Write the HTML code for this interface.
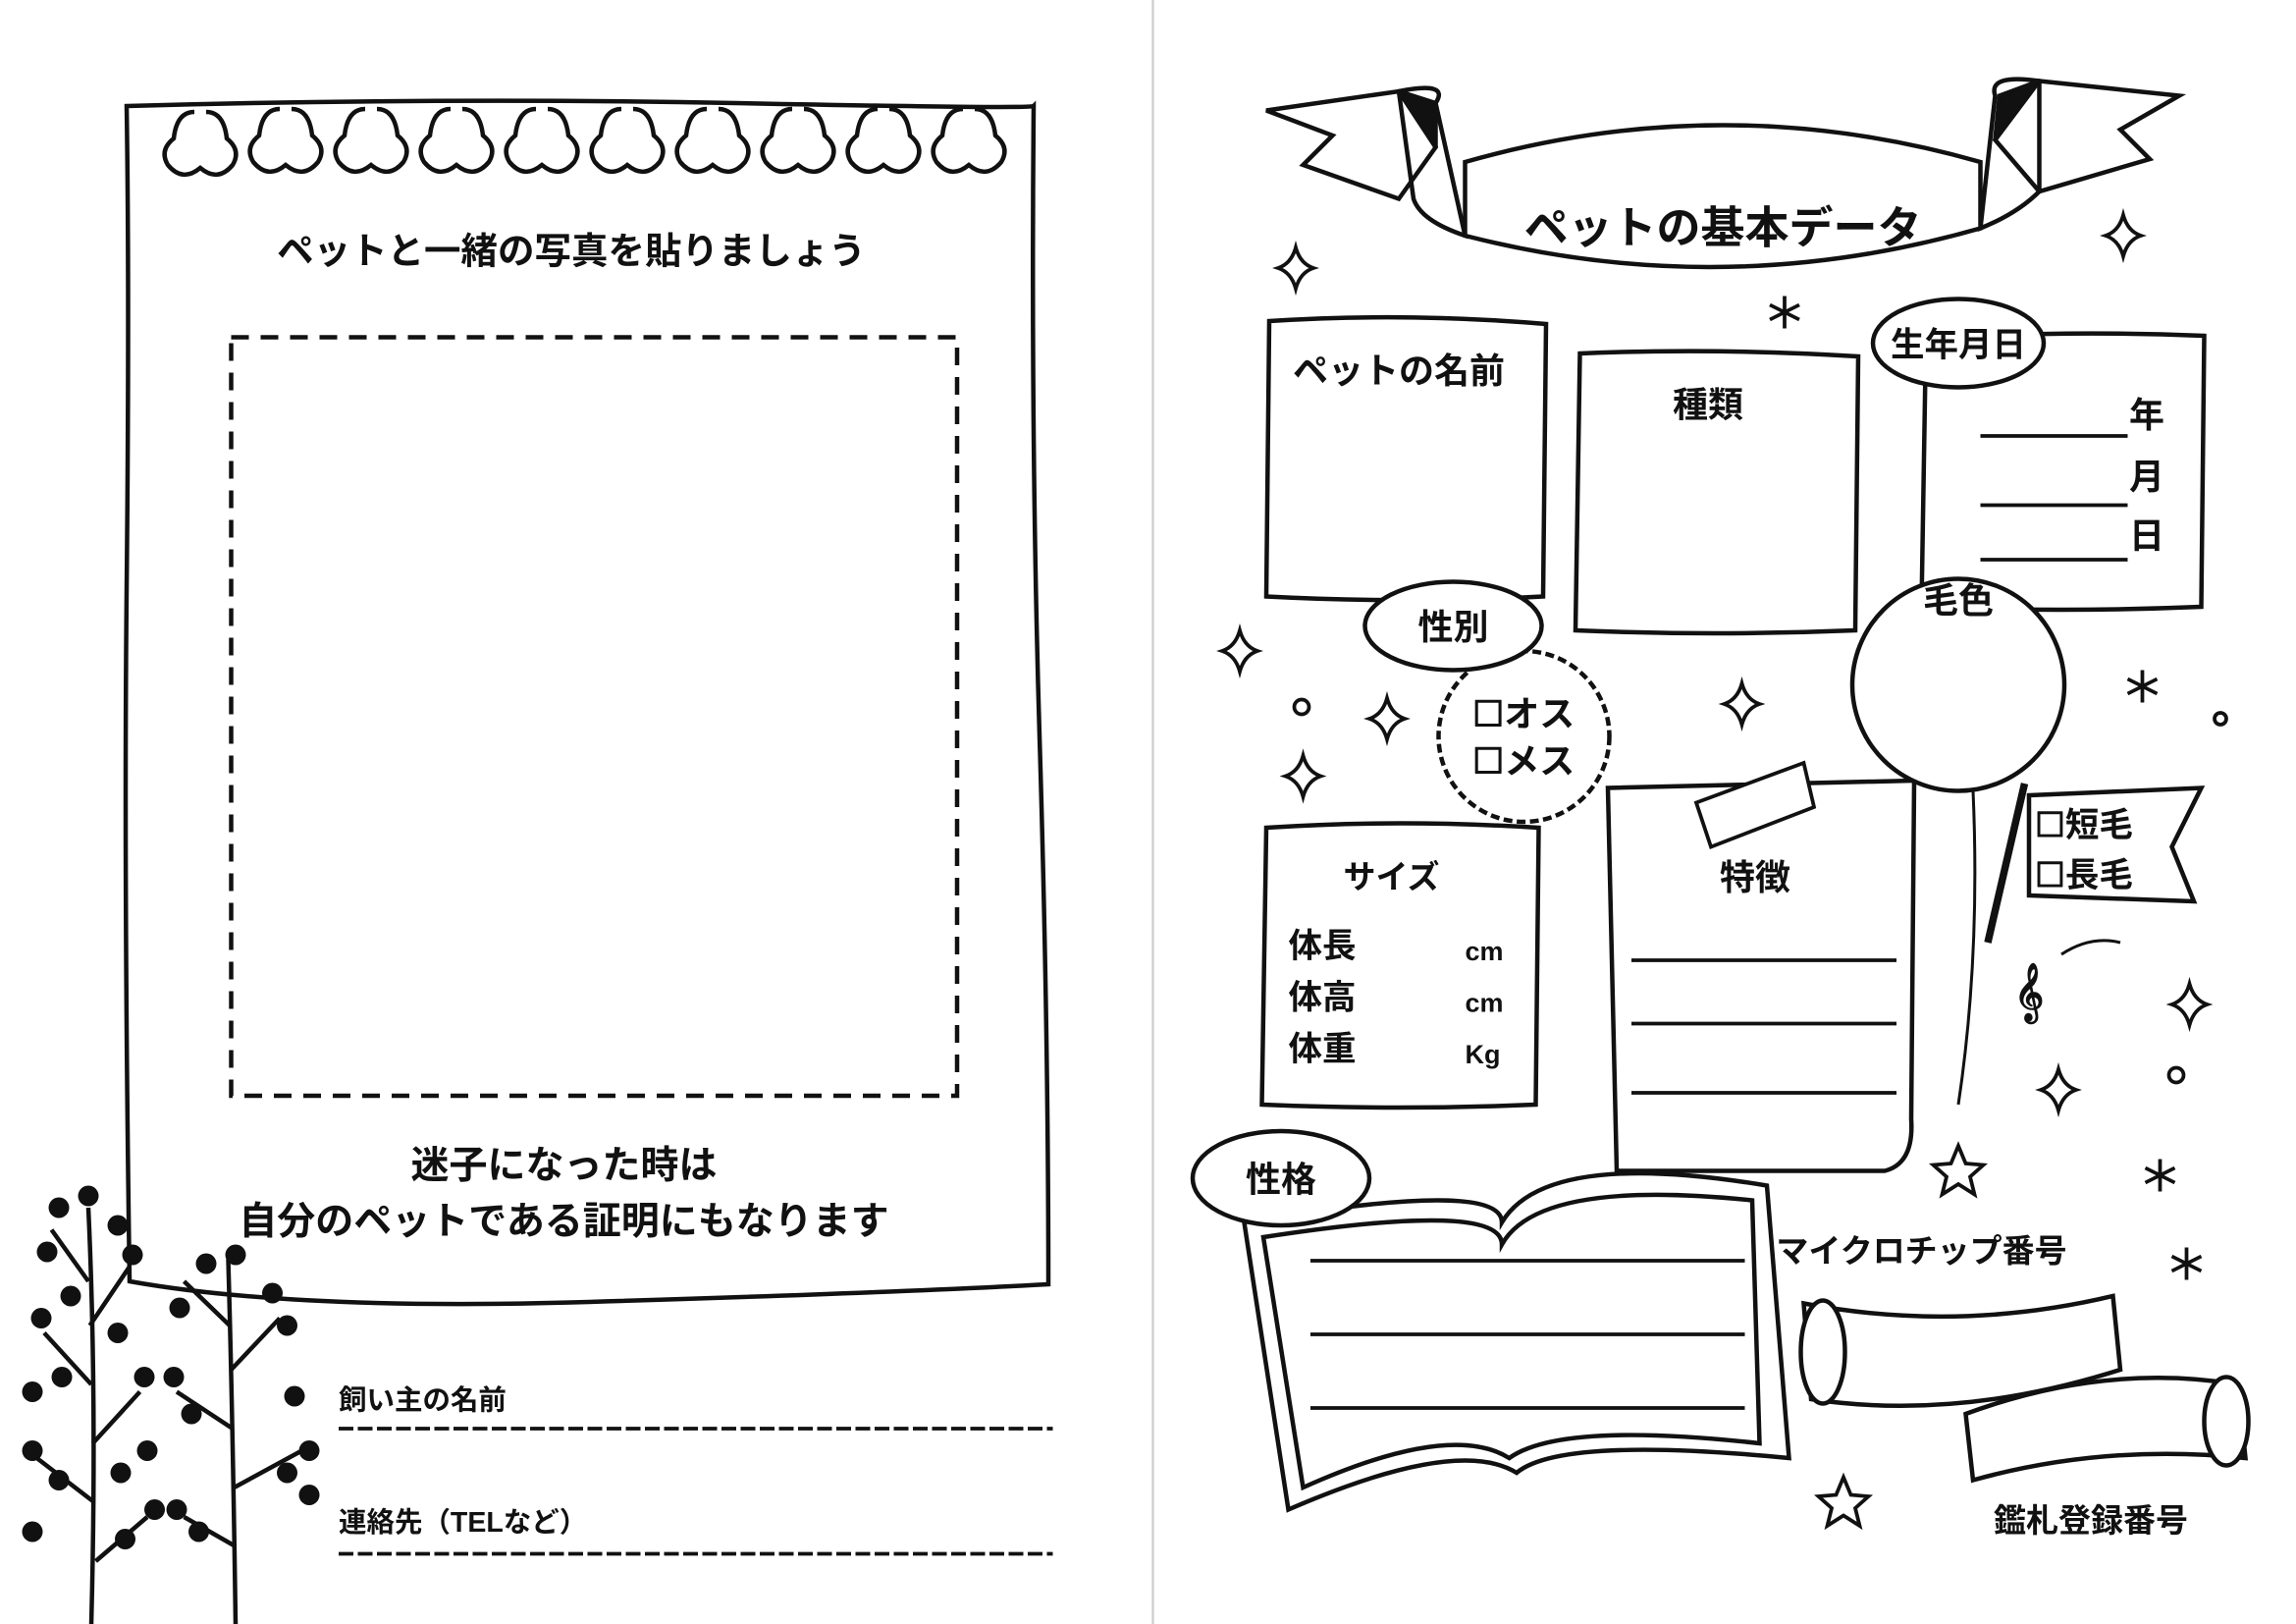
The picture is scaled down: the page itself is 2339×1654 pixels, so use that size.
<!DOCTYPE html>
<html><head><meta charset="utf-8"><style>
html,body{margin:0;padding:0;background:#fff;}
svg{display:block;}
text{font-family:"Liberation Sans","Noto Sans CJK JP",sans-serif;fill:#111;font-weight:bold;}
</style></head><body>
<svg width="2339" height="1654" viewBox="0 0 1559.33 1102.67" xmlns="http://www.w3.org/2000/svg">
<defs>
<g id="sp"><path d="M0,-14 Q3,-3 12,0 Q3,3 0,14 Q-3,3 -12,0 Q-3,-3 0,-14Z" fill="none" stroke="#111" stroke-width="2.5"/></g>
<g id="ast"><path d="M0,-11 L0,11 M-10,-5 L10,5 M-10,5 L10,-5" stroke="#111" stroke-width="2.5"/></g>
<g id="st"><path d="M0,-17 L5,-5 L17,-4 L8,4 L11,16 L0,9 L-11,16 L-8,4 L-17,-4 L-5,-5Z" fill="none" stroke="#111" stroke-width="2.5"/></g>
<path id="lp" d="M0,0 q-12,0 -14,18 q-10,8 -4,18 q10,12 22,2 q12,10 22,-2 q6,-10 -4,-18 q-2,-18 -14,-18" fill="none" stroke="#111" stroke-width="3"/>
</defs>
<line x1="783" y1="0" x2="783" y2="1103" stroke="#ccc" stroke-width="1.5"/>

<path d="M86,72 Q300,66 500,70 T702,72 Q700,300 706,500 T712,872 Q600,878 400,884 T88,870 Q84,600 86,400 T86,72Z" fill="none" stroke="#111" stroke-width="3"/>
<g>
<use href="#lp" x="132" y="76"/><use href="#lp" x="190" y="74"/><use href="#lp" x="248" y="74"/><use href="#lp" x="306" y="74"/><use href="#lp" x="364" y="74"/><use href="#lp" x="422" y="74"/><use href="#lp" x="480" y="74"/><use href="#lp" x="538" y="74"/><use href="#lp" x="596" y="74"/><use href="#lp" x="654" y="74"/>
</g>
<text x="388" y="179" font-size="25" text-anchor="middle">ペットと一緒の写真を貼りましょう</text>
<rect x="157" y="229" width="493" height="515" fill="none" stroke="#111" stroke-width="3" stroke-dasharray="12,8"/>
<text x="383" y="800" font-size="26" text-anchor="middle">迷子になった時は</text>
<text x="383" y="838" font-size="26" text-anchor="middle">自分のペットである証明にもなります</text>

<g stroke="#111" stroke-width="3" fill="none">
<path d="M62,1103 Q66,950 60,820"/><path d="M60,870 L35,835 M61,900 L88,860 M62,940 L30,905 M63,980 L95,945 M64,1020 L25,990 M65,1060 L100,1030"/>
<path d="M160,1103 Q158,960 155,855"/><path d="M156,900 L125,870 M157,930 L190,895 M158,970 L120,945 M159,1010 L205,985 M160,1050 L125,1030"/>
</g>
<g fill="#111">
<circle cx="40" cy="820" r="7"/><circle cx="60" cy="812" r="7"/><circle cx="80" cy="832" r="7"/><circle cx="32" cy="850" r="7"/><circle cx="90" cy="852" r="7"/><circle cx="28" cy="895" r="7"/><circle cx="48" cy="880" r="7"/><circle cx="98" cy="935" r="7"/><circle cx="80" cy="905" r="7"/><circle cx="22" cy="945" r="7"/><circle cx="42" cy="935" r="7"/><circle cx="22" cy="985" r="7"/><circle cx="40" cy="1005" r="7"/><circle cx="100" cy="985" r="7"/><circle cx="82" cy="1000" r="7"/><circle cx="105" cy="1025" r="7"/><circle cx="22" cy="1040" r="7"/><circle cx="85" cy="1045" r="7"/>
<circle cx="140" cy="858" r="7"/><circle cx="160" cy="852" r="7"/><circle cx="122" cy="888" r="7"/><circle cx="185" cy="878" r="7"/><circle cx="195" cy="900" r="7"/><circle cx="118" cy="935" r="7"/><circle cx="130" cy="960" r="7"/><circle cx="200" cy="948" r="7"/><circle cx="210" cy="985" r="7"/><circle cx="195" cy="1000" r="7"/><circle cx="120" cy="1025" r="7"/><circle cx="135" cy="1040" r="7"/><circle cx="210" cy="1015" r="7"/>
</g>
<text x="230" y="957" font-size="19">飼い主の名前</text>
<line x1="230" y1="970" x2="715" y2="970" stroke="#111" stroke-width="2.5" stroke-dasharray="10,3"/>
<text x="230" y="1040" font-size="19">連絡先（TELなど）</text>
<line x1="230" y1="1055" x2="715" y2="1055" stroke="#111" stroke-width="2.5" stroke-dasharray="10,3"/>

<g fill="none" stroke="#111" stroke-width="3">
<path d="M860,75 L950,62 L975,100 L950,135 L885,112 L905,92Z"/>
<path d="M1480,65 L1385,55 L1355,95 L1385,130 L1460,108 L1440,88Z"/>
<path d="M950,62 Q985,55 975,70 L995,160 Q965,150 960,135Z"/>
<path d="M1385,55 Q1350,50 1355,65 L1345,155 Q1370,145 1385,130Z"/>
<path d="M995,110 Q1170,60 1345,110 L1345,155 Q1170,205 995,160Z" fill="#fff"/>
<path d="M950,62 L975,70 L975,100" fill="#111"/>
<path d="M1385,55 L1358,65 L1355,95" fill="#111"/>
</g>
<text x="1170" y="165" font-size="30" text-anchor="middle">ペットの基本データ</text>

<g fill="#fff" stroke="#111" stroke-width="3">
<path d="M862,218 Q955,212 1050,220 L1048,405 Q955,410 860,405Z"/>
<path d="M1073,240 Q1165,236 1262,242 L1260,428 Q1165,432 1070,428Z"/>
<path d="M1308,230 Q1400,224 1497,228 L1495,412 Q1400,416 1305,412Z"/>
<path d="M860,562 Q950,556 1045,562 L1043,750 Q950,754 857,750Z"/>
<path d="M1092,535 L1300,530 L1298,760 Q1300,790 1280,795 L1098,795Z"/>
</g>
<text x="950" y="260" font-size="24" text-anchor="middle">ペットの名前</text>
<text x="1160" y="283" font-size="24" text-anchor="middle">種類</text>
<ellipse cx="1330" cy="233" rx="58" ry="30" fill="#fff" stroke="#111" stroke-width="3"/>
<text x="1330" y="242" font-size="23" text-anchor="middle">生年月日</text>
<g stroke="#111" stroke-width="2.5"><line x1="1345" y1="296" x2="1445" y2="296"/><line x1="1345" y1="343" x2="1445" y2="343"/><line x1="1345" y1="380" x2="1445" y2="380"/></g>
<text x="1458" y="290" font-size="24" text-anchor="middle">年</text>
<text x="1458" y="332" font-size="24" text-anchor="middle">月</text>
<text x="1458" y="372" font-size="24" text-anchor="middle">日</text>

<circle cx="1330" cy="465" r="72" fill="#fff" stroke="#111" stroke-width="3"/>
<path d="M1340,537 Q1345,650 1330,750" fill="none" stroke="#111" stroke-width="2"/>
<text x="1330" y="416" font-size="24" text-anchor="middle">毛色</text>

<circle cx="1035" cy="500" r="58" fill="#fff" stroke="#111" stroke-width="3" stroke-dasharray="6,3"/>
<ellipse cx="987" cy="425" rx="60" ry="30" fill="#fff" stroke="#111" stroke-width="3"/>
<text x="987" y="434" font-size="24" text-anchor="middle">性別</text>
<text x="1000" y="493" font-size="24">☐オス</text>
<text x="1000" y="525" font-size="24">☐メス</text>

<text x="945" y="603" font-size="22" text-anchor="middle">サイズ</text>
<text x="875" y="650" font-size="23">体長</text><text x="995" y="652" font-size="18">cm</text>
<text x="875" y="685" font-size="23">体高</text><text x="995" y="687" font-size="18">cm</text>
<text x="875" y="720" font-size="23">体重</text><text x="995" y="722" font-size="18">Kg</text>

<path d="M1152,545 L1225,518 L1232,548 L1162,575Z" fill="#fff" stroke="#111" stroke-width="2.5"/>
<text x="1192" y="604" font-size="24" text-anchor="middle">特徴</text>
<g stroke="#111" stroke-width="2.5"><line x1="1108" y1="652" x2="1288" y2="652"/><line x1="1108" y1="695" x2="1288" y2="695"/><line x1="1108" y1="742" x2="1288" y2="742"/></g>

<path d="M1378,540 L1495,535 L1475,575 L1490,612 L1378,608Z" fill="#fff" stroke="#111" stroke-width="3"/>
<path d="M1375,532 L1350,640" stroke="#111" stroke-width="5"/>
<text x="1382" y="568" font-size="23">☐短毛</text>
<text x="1382" y="602" font-size="23">☐長毛</text>
<text x="1368" y="685" font-size="34">𝄞</text>
<path d="M1400,648 Q1420,635 1440,640" fill="none" stroke="#111" stroke-width="2"/>

<g fill="#fff" stroke="#111" stroke-width="3">
<path d="M845,830 Q1020,800 1020,830 Q1050,780 1200,805 L1215,990 Q1060,975 1030,1000 Q990,975 875,1025Z"/>
<path d="M858,840 Q1020,815 1020,845 Q1045,800 1190,815 L1195,980 Q1060,965 1025,990 Q985,965 885,1010Z"/>
</g>
<g stroke="#111" stroke-width="2.5"><line x1="890" y1="856" x2="1185" y2="856"/><line x1="890" y1="906" x2="1185" y2="906"/><line x1="890" y1="956" x2="1185" y2="956"/></g>
<ellipse cx="870" cy="800" rx="60" ry="32" fill="#fff" stroke="#111" stroke-width="3"/>
<text x="870" y="809" font-size="24" text-anchor="middle">性格</text>

<text x="1305" y="857" font-size="22" text-anchor="middle">マイクロチップ番号</text>
<g fill="#fff" stroke="#111" stroke-width="3">
<path d="M1225,885 Q1330,905 1435,880 L1440,930 Q1330,965 1230,950Z"/>
<ellipse cx="1238" cy="918" rx="15" ry="35"/>
<path d="M1335,960 Q1430,925 1520,940 L1525,990 Q1430,980 1340,1005Z"/>
<ellipse cx="1512" cy="965" rx="15" ry="30"/>
</g>
<text x="1420" y="1040" font-size="22" text-anchor="middle">鑑札登録番号</text>

<use href="#sp" x="880" y="182"/><use href="#sp" x="1442" y="160"/><use href="#sp" x="842" y="442"/><use href="#sp" x="942" y="488"/><use href="#sp" x="885" y="527"/><use href="#sp" x="1183" y="478"/><use href="#sp" x="1487" y="682"/><use href="#sp" x="1398" y="740"/>
<use href="#ast" x="1212" y="212"/><use href="#ast" x="1455" y="466"/><use href="#ast" x="1467" y="798"/><use href="#ast" x="1485" y="858"/>
<use href="#st" x="1330" y="795"/><use href="#st" x="1252" y="1020"/>
<g fill="none" stroke="#111" stroke-width="2.5"><circle cx="884" cy="480" r="5"/><circle cx="1508" cy="488" r="4"/><circle cx="1478" cy="730" r="5"/></g>
</svg>
</body></html>
